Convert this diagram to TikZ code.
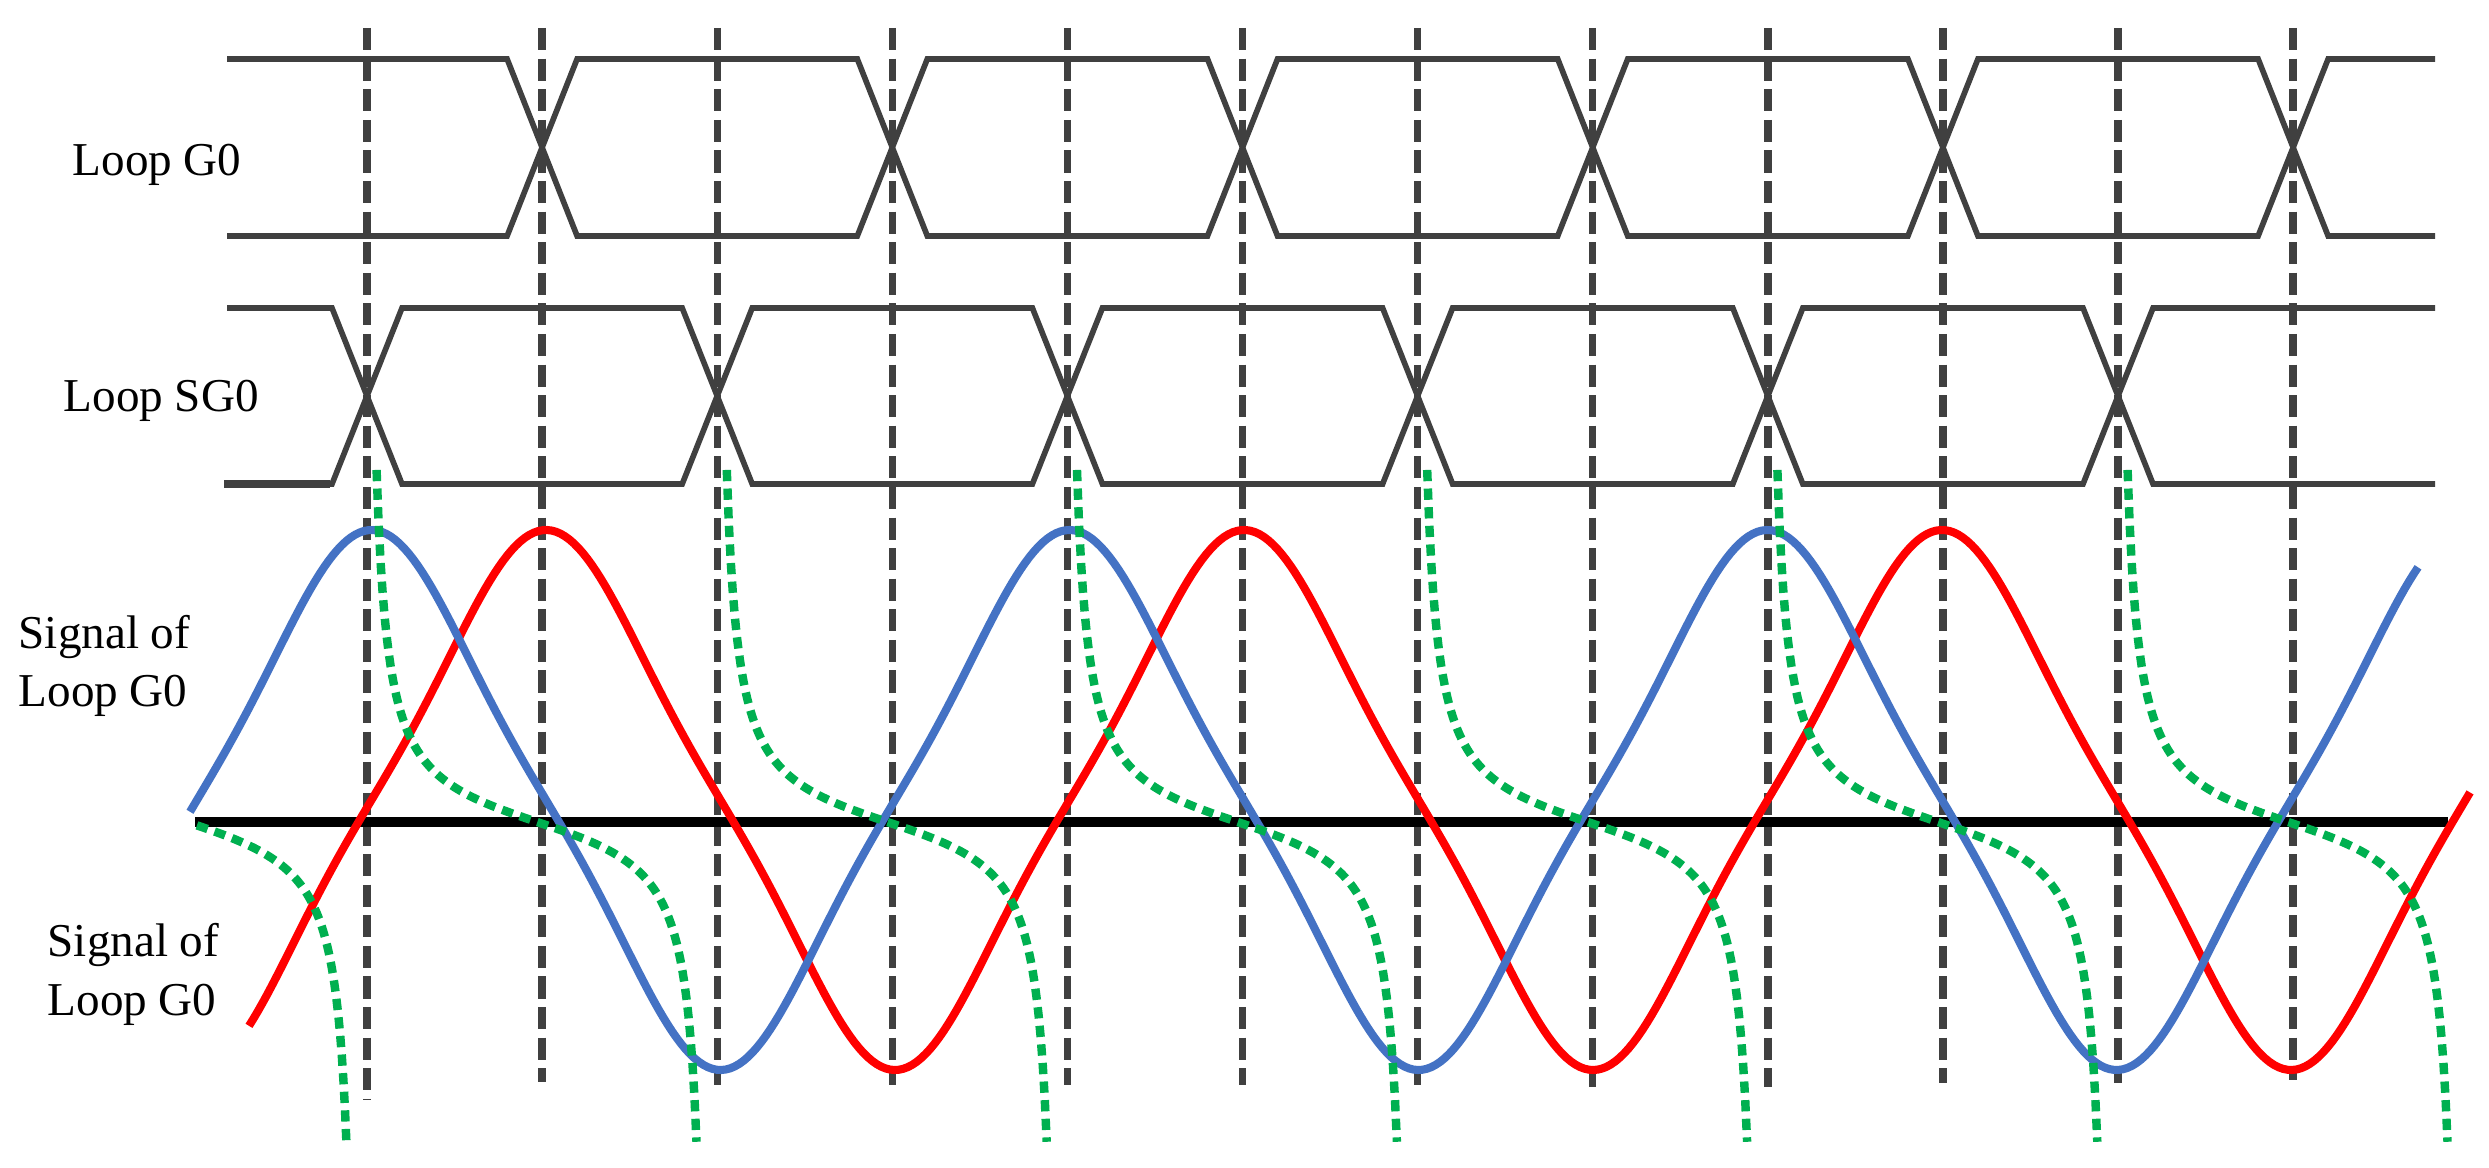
\documentclass[tikz,border=0pt]{standalone}
\usepackage{fontspec}
\setmainfont{Liberation Serif}
\definecolor{wavegray}{HTML}{404040}
\definecolor{sigblue}{HTML}{4472C4}
\definecolor{sigred}{HTML}{FF0000}
\definecolor{siggreen}{HTML}{00B050}
\begin{document}
\begin{tikzpicture}[x=0.01cm, y=-0.01cm,
  wave/.style={draw=wavegray, line width=1.6pt, line join=miter},
  gridline/.style={draw=wavegray, line width=2.1pt, dash pattern=on 6.3pt off 2.4pt},
  axisline/.style={draw=black, line width=3.1pt},
  bluesig/.style={draw=sigblue, line width=2.3pt},
  redsig/.style={draw=sigred, line width=2.3pt},
  greensig/.style={draw=siggreen, line width=2.4pt, dash pattern=on 3.2pt off 2.1pt},
  lbl/.style={font=\fontsize{13.4pt}{16pt}\selectfont, inner sep=0pt, anchor=base west}]
\fill[white] (0,0) rectangle (2489,1168);
\useasboundingbox (0,0) rectangle (2489,1168);

% vertical dashed reference lines
\foreach \k/\yb in {0/1100,1/1082,2/1085,3/1085,4/1085,5/1085,6/1085,7/1087,8/1087,9/1083,10/1083,11/1080}
  { \draw[gridline] ({367+175.1*\k},28) -- ({367+175.1*\k},\yb); }

% Loop G0 eye pattern
\draw[wave] (227,59) \foreach \k/\ya/\yb in {1/59/236,3/236/59,5/59/236,7/236/59,9/59/236,11/236/59}
  { -- ({367+175.1*\k-35},\ya) -- ({367+175.1*\k+35},\yb) } -- (2435,59);
\draw[wave] (227,236) \foreach \k/\ya/\yb in {1/236/59,3/59/236,5/236/59,7/59/236,9/236/59,11/59/236}
  { -- ({367+175.1*\k-35},\ya) -- ({367+175.1*\k+35},\yb) } -- (2435,236);

% Loop SG0 eye pattern
\draw[wave] (227,308) \foreach \k/\ya/\yb in {0/308/484,2/484/308,4/308/484,6/484/308,8/308/484,10/484/308}
  { -- ({367+175.1*\k-35},\ya) -- ({367+175.1*\k+35},\yb) } -- (2435,308);
\draw[wave] (227,484) \foreach \k/\ya/\yb in {0/484/308,2/308/484,4/484/308,6/308/484,8/484/308,10/308/484}
  { -- ({367+175.1*\k-35},\ya) -- ({367+175.1*\k+35},\yb) } -- (2435,484);
\draw[wave, line width=2.2pt] (224,484) -- (330,484);

% axis
\draw[axisline] (195,822) -- (2448,822);

% signals
\draw[redsig] plot[domain=249:2470, samples=500]
  (\x, {800 - 270*(sin(360*((\x-371.5)/698)) - sin(1080*((\x-371.5)/698))/12)/1.0833});
\draw[bluesig] plot[domain=190:2418, samples=500]
  (\x, {800 - 270*(sin(360*((\x-197)/698)) - sin(1080*((\x-197)/698))/12)/1.0833});

% green tangent-like curves
\draw[greensig] plot[domain=5.2:83.4, samples=100] ({187+\x/90*172}, {822+37*tan(\x)});
\foreach \k in {1,3,5,7,9,11}
  { \draw[greensig] plot[domain=-84:83.4, samples=160] ({367+175.1*\k-5+\x/90*172}, {822+37*tan(\x)}); }

% labels
\node[lbl] (g0) at (72,176) {Loop G0};
\node[lbl] (sg0) at (63,412) {Loop SG0};
\node[lbl] (sigA1) at (18,649) {Signal of};
\node[lbl] (sigA2) at (18,707) {Loop G0};
\node[lbl] (sigB1) at (47,956) {Signal of};
\node[lbl] (sigB2) at (47,1015) {Loop G0};
\end{tikzpicture}
\end{document}
